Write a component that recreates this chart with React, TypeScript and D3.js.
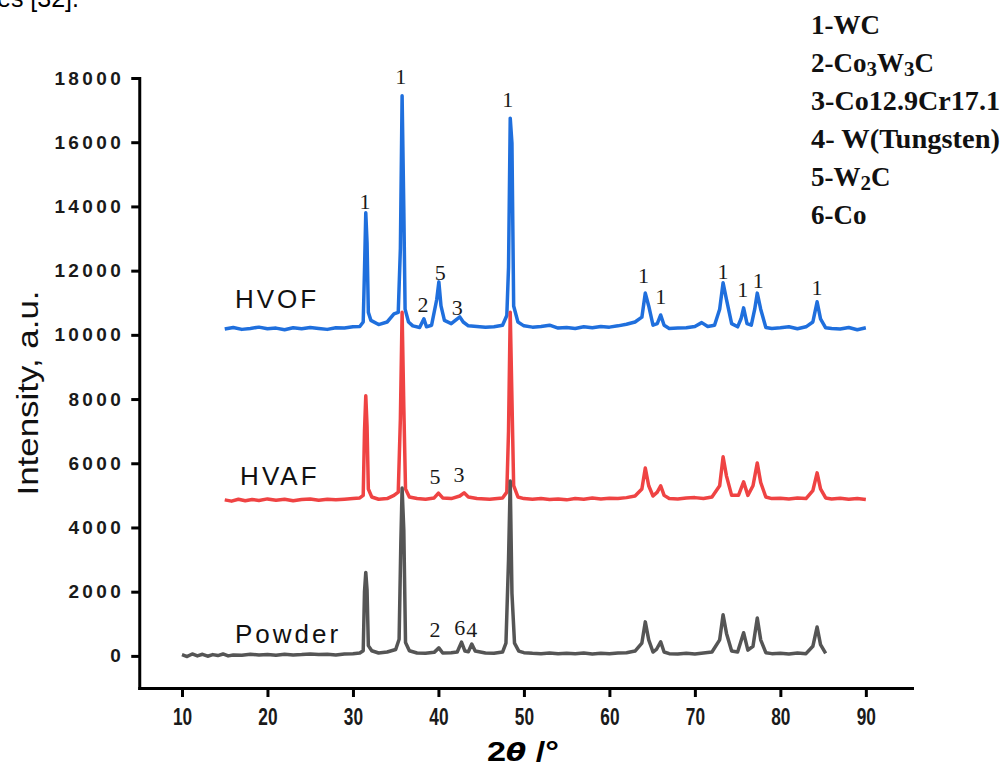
import React, { useEffect, useRef } from 'react';
import * as d3 from 'd3';

type Pt = [number, number];

// 2θ (deg), intensity (a.u.)
const powder: Pt[] = [
  [10, 40], [10.6, -20], [11.2, 60], [11.8, 0], [12.4, 50], [13, -10], [13.6, 40], [14.2, 10], [14.8, 60], [15.4, 0],
  [16, 30], [17, 20], [18, 50], [19, 30], [20, 40], [21, 20], [22, 50], [23, 30], [24, 40], [25, 60], [26, 40],
  [27, 50], [28, 30], [29, 60], [30, 70], [30.8, 90], [31.2, 160], [31.35, 2000], [31.5, 2600], [31.65, 2050],
  [31.8, 320], [32.2, 160], [33, 90], [34, 120], [35, 200], [35.4, 520], [35.6, 3500], [35.75, 5230], [35.95, 3900],
  [36.15, 420], [36.6, 160], [37.5, 90], [38.5, 80], [39.5, 110], [40.05, 250], [40.5, 90], [41.5, 100], [42.2, 120],
  [42.7, 430], [43.1, 150], [43.5, 130], [43.9, 370], [44.3, 150], [45.5, 90], [46.5, 80], [47.5, 120], [47.9, 400],
  [48.2, 3000], [48.4, 5450], [48.6, 1950], [48.9, 400], [49.4, 150], [50, 100], [51, 80], [52, 70], [53, 90],
  [54, 70], [55, 80], [56, 70], [57, 90], [58, 60], [59, 80], [60, 70], [61, 90], [62, 100], [63, 150], [63.8, 400],
  [64.2, 1060], [64.6, 500], [65.1, 120], [65.5, 200], [66, 440], [66.4, 120], [67, 70], [68, 60], [69, 80],
  [70, 60], [71, 90], [72, 120], [72.9, 500], [73.3, 1280], [73.7, 700], [74.3, 150], [75, 120], [75.7, 720],
  [76.2, 180], [76.8, 300], [77.3, 1180], [77.7, 500], [78.3, 100], [79, 70], [80, 80], [81, 60], [82, 90], [83, 70],
  [83.8, 300], [84.3, 900], [84.7, 350], [85.3, 80]
];

const hvaf: Pt[] = [
  [15, 4860], [15.8, 4820], [16.6, 4880], [17.4, 4830], [18.2, 4870], [19, 4840], [20, 4890], [21, 4850], [22, 4880],
  [23, 4830], [24, 4870], [25, 4890], [26, 4850], [27, 4880], [28, 4860], [29, 4880], [30, 4900], [30.8, 4920],
  [31.2, 5000], [31.35, 7000], [31.5, 8100], [31.65, 7150], [31.8, 5200], [32.2, 4950], [33, 4880], [34, 4900],
  [34.8, 5000], [35.3, 5100], [35.55, 7400], [35.75, 10700], [35.95, 7750], [36.15, 5200], [36.6, 4950], [37.5, 4900],
  [38.5, 4880], [39.5, 4920], [40, 5070], [40.5, 4920], [41.5, 4900], [42.5, 4980], [43, 5080], [43.5, 4950],
  [44.5, 4900], [46, 4880], [47.5, 4920], [48, 5100], [48.2, 7000], [48.4, 10700], [48.6, 8000], [48.8, 5300],
  [49.3, 4950], [50, 4900], [51, 4880], [52, 4900], [53, 4870], [54, 4890], [55, 4860], [56, 4900], [57, 4880],
  [58, 4920], [59, 4890], [60, 4910], [61, 4900], [62, 4930], [63, 4980], [63.8, 5200], [64.2, 5850], [64.6, 5300],
  [65.1, 4980], [65.6, 5100], [66, 5300], [66.4, 5000], [67, 4900], [68, 4890], [69, 4920], [70, 4930], [71, 4900],
  [72, 4950], [72.9, 5300], [73.3, 6200], [73.7, 5600], [74.3, 5000], [75.1, 5000], [75.7, 5420], [76.2, 5000],
  [76.8, 5300], [77.3, 6010], [77.7, 5400], [78.3, 4950], [79, 4900], [80, 4910], [81, 4890], [82, 4920], [83, 4900],
  [83.8, 5150], [84.3, 5700], [84.7, 5200], [85.3, 4920], [86, 4890], [87, 4910], [88, 4880], [89, 4900], [90, 4870]
];

const hvof: Pt[] = [
  [15, 10180], [16, 10230], [17, 10170], [18, 10200], [19, 10240], [20, 10190], [21, 10210], [22, 10160],
  [23, 10220], [24, 10190], [25, 10230], [26, 10200], [27, 10170], [28, 10220], [29, 10210], [30, 10250],
  [30.8, 10260], [31.2, 10400], [31.35, 12000], [31.5, 13800], [31.65, 12860], [31.8, 10700], [32.1, 10450],
  [33, 10320], [34, 10400], [34.8, 10650], [35.3, 10700], [35.55, 12700], [35.75, 17450], [35.95, 13900],
  [36.1, 10800], [36.5, 10400], [37, 10280], [37.8, 10230], [38.3, 10500], [38.6, 10250], [39.2, 10300],
  [39.8, 11100], [40.05, 11650], [40.3, 10900], [40.7, 10450], [41.5, 10350], [42.2, 10500], [42.5, 10560],
  [42.9, 10400], [43.5, 10280], [44.5, 10260], [45.5, 10240], [46.5, 10250], [47.5, 10300], [48, 10600],
  [48.2, 12100], [48.4, 16750], [48.6, 15970], [48.8, 10900], [49.3, 10400], [50, 10280], [51, 10240],
  [52, 10260], [53, 10300], [54, 10210], [55, 10230], [56, 10200], [57, 10250], [58, 10220], [59, 10260],
  [60, 10240], [61, 10280], [62, 10330], [63, 10400], [63.8, 10550], [64.2, 11300], [64.6, 10900], [65.1, 10300],
  [65.6, 10350], [66, 10620], [66.4, 10300], [67, 10200], [68, 10210], [69, 10220], [70, 10260], [70.8, 10380],
  [71.5, 10260], [72.3, 10300], [72.9, 10800], [73.3, 11620], [73.7, 11100], [74.3, 10350], [75, 10250],
  [75.4, 10500], [75.7, 10840], [76.1, 10350], [76.6, 10300], [77, 10800], [77.3, 11300], [77.7, 10800],
  [78.3, 10230], [79, 10200], [80, 10220], [81, 10250], [82, 10190], [83, 10250], [83.8, 10400], [84.3, 11030],
  [84.7, 10500], [85.3, 10220], [86, 10200], [87, 10180], [88, 10230], [89, 10160], [90, 10220]
];

const seriesColors = ['#1f6fdd', '#ef4343', '#555555'];
const seriesNames = ['HVOF', 'HVAF', 'Powder'];
const nameAnchors: Pt[] = [[16.2, 10840], [16.8, 5330], [16.2, 400]];

// peak annotations: 2θ, intensity, phase number
const peakLabels: [number, number, string][] = [
  [31.4, 14140, '1'], [35.6, 18060, '1'], [48.1, 17320, '1'], [38.2, 10930, '2'], [40.2, 11930, '5'],
  [42.2, 10840, '3'], [64.0, 11840, '1'], [66.0, 11180, '1'], [73.3, 11960, '1'], [75.6, 11400, '1'],
  [77.4, 11680, '1'], [84.3, 11460, '1'],
  [39.6, 5575, '5'], [42.4, 5640, '3'],
  [39.6, 810, '2'], [42.5, 870, '6'], [43.9, 810, '4']
];

// phase key, [text, subscript]
const phaseKey: [string, boolean][][] = [
  [['1-WC', false]],
  [['2-Co', false], ['3', true], ['W', false], ['3', true], ['C', false]],
  [['3-Co12.9Cr17.1', false]],
  [['4- W(Tungsten)', false]],
  [['5-W', false], ['2', true], ['C', false]],
  [['6-Co', false]]
];

const xTicks = [10, 20, 30, 40, 50, 60, 70, 80, 90];
const yTicks = [0, 2000, 4000, 6000, 8000, 10000, 12000, 14000, 16000, 18000];

export default function App() {
  const ref = useRef<SVGSVGElement>(null);

  useEffect(() => {
    if (!ref.current) return;
    const svg = d3.select(ref.current);
    svg.selectAll('*').remove();

    const x = d3.scaleLinear().domain([5, 95.4]).range([139.25, 912]);
    const y = d3.scaleLinear().domain([-1000, 18000]).range([688, 78]);

    // text fragment cut off at the top of the page (as in the source)
    svg.append('text').attr('x', -3).attr('y', 7)
      .attr('font-family', 'Liberation Sans, Arial, sans-serif').attr('font-size', 25)
      .text('es [32].');

    // traces: blue first, then red, grey on top
    const line = d3.line<Pt>().x(d => x(d[0])).y(d => y(d[1]));
    [hvof, hvaf, powder].forEach((s, i) => {
      svg.append('path').datum(s).attr('d', line)
        .attr('fill', 'none').attr('stroke', seriesColors[i])
        .attr('stroke-width', 3.5).attr('stroke-linejoin', 'round');
    });

    // axes
    const gx = svg.append('g').attr('transform', `translate(0,${y(-1000)})`)
      .call(d3.axisBottom(x).tickValues(xTicks).tickSize(9).tickSizeOuter(0).tickPadding(11));
    gx.select('.domain').attr('stroke', '#000').attr('stroke-width', 3).attr('stroke-linecap', 'square');
    gx.selectAll('.tick line').attr('stroke', '#000').attr('stroke-width', 3);
    gx.selectAll('.tick text')
      .attr('font-family', 'Liberation Sans, Arial, sans-serif')
      .attr('font-size', 24).attr('font-weight', 'bold').attr('fill', '#1a1a1a')
      .attr('transform', 'scale(0.72,1)');

    const gy = svg.append('g').attr('transform', `translate(${x(5)},0)`)
      .call(d3.axisLeft(y).tickValues(yTicks).tickSize(8).tickSizeOuter(0).tickPadding(7).tickFormat(d3.format('d')));
    gy.select('.domain').attr('stroke', '#000').attr('stroke-width', 3).attr('stroke-linecap', 'square');
    gy.selectAll('.tick line').attr('stroke', '#000').attr('stroke-width', 3);
    gy.selectAll('.tick text')
      .attr('font-family', 'Liberation Sans, Arial, sans-serif')
      .attr('font-size', 19).attr('font-weight', 'bold').attr('fill', '#1a1a1a')
      .attr('letter-spacing', 3.4);

    // axis titles
    const xt = svg.append('text').attr('x', 523).attr('y', 761).attr('text-anchor', 'middle')
      .attr('font-family', 'Liberation Sans, Arial, sans-serif')
      .attr('font-size', 28).attr('font-weight', 'bold').attr('fill', '#000')
      .attr('textLength', 72).attr('lengthAdjust', 'spacingAndGlyphs');
    xt.append('tspan').text('2');
    xt.append('tspan').attr('font-style', 'italic').attr('font-family', 'DejaVu Sans, sans-serif')
      .attr('font-size', 24).text('θ');
    xt.append('tspan').text(' /°');

    svg.append('text')
      .attr('transform', 'translate(38,393) rotate(-90)')
      .attr('text-anchor', 'middle')
      .attr('font-family', 'Liberation Sans, Arial, sans-serif')
      .attr('font-size', 30).attr('fill', '#111')
      .attr('textLength', 205).attr('lengthAdjust', 'spacingAndGlyphs')
      .text('Intensity, a.u.');

    // sample names
    seriesNames.forEach((n, i) => {
      svg.append('text').attr('x', x(nameAnchors[i][0])).attr('y', y(nameAnchors[i][1]))
        .attr('font-family', 'Liberation Sans, Arial, sans-serif')
        .attr('font-size', 26).attr('fill', '#111').attr('letter-spacing', 3)
        .text(n);
    });

    // peak labels
    svg.append('g').selectAll('text').data(peakLabels).join('text')
      .attr('x', d => x(d[0])).attr('y', d => y(d[1]))
      .attr('text-anchor', 'middle').attr('dominant-baseline', 'central')
      .attr('font-family', 'Liberation Serif, Times New Roman, serif')
      .attr('font-size', 22).attr('fill', '#1a1a1a')
      .text(d => d[2]);

    // phase key
    const key = svg.append('g').attr('transform', 'translate(811,0)')
      .attr('font-family', 'Liberation Serif, Times New Roman, serif')
      .attr('font-size', 27).attr('font-weight', 'bold').attr('fill', '#111');
    phaseKey.forEach((row, i) => {
      const t = key.append('text').attr('x', 0).attr('y', 34 + i * 38)
        .attr('textLength', i === 2 || i === 3 ? 189 : null).attr('lengthAdjust', 'spacingAndGlyphs');
      row.forEach(([s, sub], j) => {
        const ts = t.append('tspan').text(s);
        if (sub) ts.attr('font-size', 21).attr('dy', 4);
        else if (j > 0 && row[j - 1][1]) ts.attr('dy', -4);
      });
    });
  }, []);

  return (
    <svg
      ref={ref}
      width={1003}
      height={766}
      style={{ position: 'absolute', left: 0, top: 0, background: '#fff' }}
    />
  );
}
